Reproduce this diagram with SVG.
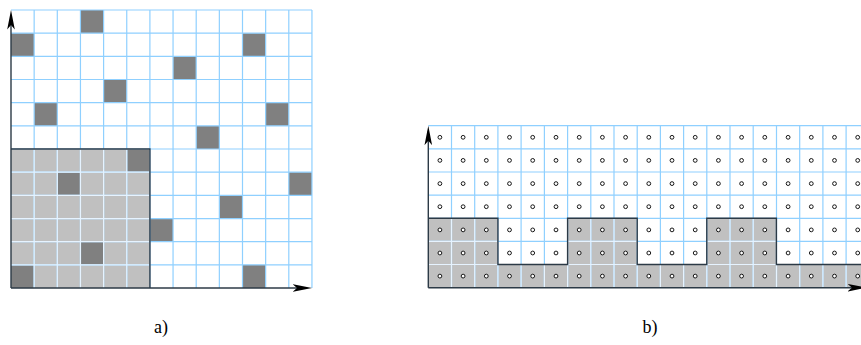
<svg xmlns="http://www.w3.org/2000/svg" xmlns:xlink="http://www.w3.org/1999/xlink" width="861" height="345" viewBox="0 0 861 345">
<style>
.bg{fill:#ffffff}
.lg{fill:#c0c0c0}
.dk{fill:#808080}
.gb{stroke:#8fd0ff;stroke-width:1.2;fill:none}
.gw{stroke:#e6f3ff;stroke-width:1.2;fill:none}
.ol{stroke:#2c3a46;stroke-width:1.4;fill:none}
.ax{stroke:#2c3a46;stroke-width:1.4;fill:none;marker-end:url(#arr)}
.pt{fill:#ffffff;stroke:#000000;stroke-width:0.9}
.lbl{font-family:"Liberation Serif","Times New Roman",serif;font-size:18px;fill:#000000;text-anchor:middle}
</style>
<defs>
<marker id="arr" viewBox="0 0 20 8" markerWidth="20" markerHeight="8" refX="14.5" refY="4" orient="auto" markerUnits="userSpaceOnUse">
<path d="M19.5,4 L0,0.2 L4.5,4 L0,7.8 Z" fill="#000000"/>
</marker>
<clipPath id="clipA"><rect x="11" y="149.02" width="138.9" height="139.02"/></clipPath>
<clipPath id="clipB">
<rect x="428.3" y="264.5" width="440" height="23.2"/>
<rect x="428.3" y="218.3" width="69.6" height="46.3"/>
<rect x="567.6" y="218.3" width="69.6" height="46.3"/>
<rect x="706.8" y="218.3" width="69.6" height="46.3"/>
</clipPath>
<g id="gridAlines">
<path d="M34.15,10V288M57.3,10V288M80.45,10V288M103.6,10V288M126.75,10V288M149.9,10V288M173.05,10V288M196.2,10V288M219.35,10V288M242.5,10V288M265.65,10V288M288.8,10V288M311.95,10V288"/>
<path d="M11,10H312M11,33.17H312M11,56.34H312M11,79.51H312M11,102.68H312M11,125.85H312M11,149.02H312M11,172.19H312M11,195.36H312M11,218.53H312M11,241.7H312M11,264.87H312"/>
</g>
<g id="gridBlines">
<path d="M451.5,125.7V287.7M474.7,125.7V287.7M497.9,125.7V287.7M521.1,125.7V287.7M544.4,125.7V287.7M567.6,125.7V287.7M590.8,125.7V287.7M614,125.7V287.7M637.2,125.7V287.7M660.4,125.7V287.7M683.6,125.7V287.7M706.8,125.7V287.7M730,125.7V287.7M753.2,125.7V287.7M776.5,125.7V287.7M799.7,125.7V287.7M822.9,125.7V287.7M846.1,125.7V287.7"/>
<path d="M428.3,125.7H870M428.3,148.8H870M428.3,172H870M428.3,195.1H870M428.3,218.3H870M428.3,241.4H870M428.3,264.5H870"/>
</g>
</defs>
<rect class="bg" x="0" y="0" width="861" height="345"/>

<g id="panelA">
<rect class="lg" x="11" y="149.02" width="138.9" height="139.02"/>
<g id="darkCells">
<rect class="dk" x="80.45" y="10" width="23.15" height="23.17"/>
<rect class="dk" x="11" y="33.17" width="23.15" height="23.17"/>
<rect class="dk" x="242.5" y="33.17" width="23.15" height="23.17"/>
<rect class="dk" x="173.05" y="56.34" width="23.15" height="23.17"/>
<rect class="dk" x="103.6" y="79.51" width="23.15" height="23.17"/>
<rect class="dk" x="34.15" y="102.68" width="23.15" height="23.17"/>
<rect class="dk" x="265.65" y="102.68" width="23.15" height="23.17"/>
<rect class="dk" x="196.2" y="125.85" width="23.15" height="23.17"/>
<rect class="dk" x="126.75" y="149.02" width="23.15" height="23.17"/>
<rect class="dk" x="57.3" y="172.19" width="23.15" height="23.17"/>
<rect class="dk" x="288.8" y="172.19" width="23.15" height="23.17"/>
<rect class="dk" x="219.35" y="195.36" width="23.15" height="23.17"/>
<rect class="dk" x="149.9" y="218.53" width="23.15" height="23.17"/>
<rect class="dk" x="80.45" y="241.7" width="23.15" height="23.17"/>
<rect class="dk" x="11" y="264.87" width="23.15" height="23.17"/>
<rect class="dk" x="242.5" y="264.87" width="23.15" height="23.17"/>
</g>
<use xlink:href="#gridAlines" class="gb"/>
<g clip-path="url(#clipA)"><use xlink:href="#gridAlines" class="gw"/></g>
<path class="ol" d="M11,149.02H149.9V288"/>
<path class="ax" d="M11,288V15"/>
<path class="ax" d="M11,288H307"/>
<text class="lbl" x="161" y="333">a)</text>
</g>

<g id="panelB">
<path class="lg" d="M428.3,218.3H497.9V264.5H567.6V218.3H637.2V264.5H706.8V218.3H776.4V264.5H870V287.7H428.3Z"/>
<use xlink:href="#gridBlines" class="gb"/>
<g clip-path="url(#clipB)"><use xlink:href="#gridBlines" class="gw"/></g>
<path class="ol" d="M428.3,218.3H497.9V264.5H567.6V218.3H637.2V264.5H706.8V218.3H776.4V264.5H870"/>
<g id="points">
<circle class="pt" cx="439.9" cy="137.3" r="1.9"/><circle class="pt" cx="463.1" cy="137.3" r="1.9"/><circle class="pt" cx="486.3" cy="137.3" r="1.9"/><circle class="pt" cx="509.5" cy="137.3" r="1.9"/><circle class="pt" cx="532.7" cy="137.3" r="1.9"/><circle class="pt" cx="556" cy="137.3" r="1.9"/><circle class="pt" cx="579.2" cy="137.3" r="1.9"/><circle class="pt" cx="602.4" cy="137.3" r="1.9"/><circle class="pt" cx="625.6" cy="137.3" r="1.9"/><circle class="pt" cx="648.8" cy="137.3" r="1.9"/><circle class="pt" cx="672" cy="137.3" r="1.9"/><circle class="pt" cx="695.2" cy="137.3" r="1.9"/><circle class="pt" cx="718.4" cy="137.3" r="1.9"/><circle class="pt" cx="741.6" cy="137.3" r="1.9"/><circle class="pt" cx="764.8" cy="137.3" r="1.9"/><circle class="pt" cx="788.1" cy="137.3" r="1.9"/><circle class="pt" cx="811.3" cy="137.3" r="1.9"/><circle class="pt" cx="834.5" cy="137.3" r="1.9"/><circle class="pt" cx="857.7" cy="137.3" r="1.9"/>
<circle class="pt" cx="439.9" cy="160.4" r="1.9"/><circle class="pt" cx="463.1" cy="160.4" r="1.9"/><circle class="pt" cx="486.3" cy="160.4" r="1.9"/><circle class="pt" cx="509.5" cy="160.4" r="1.9"/><circle class="pt" cx="532.7" cy="160.4" r="1.9"/><circle class="pt" cx="556" cy="160.4" r="1.9"/><circle class="pt" cx="579.2" cy="160.4" r="1.9"/><circle class="pt" cx="602.4" cy="160.4" r="1.9"/><circle class="pt" cx="625.6" cy="160.4" r="1.9"/><circle class="pt" cx="648.8" cy="160.4" r="1.9"/><circle class="pt" cx="672" cy="160.4" r="1.9"/><circle class="pt" cx="695.2" cy="160.4" r="1.9"/><circle class="pt" cx="718.4" cy="160.4" r="1.9"/><circle class="pt" cx="741.6" cy="160.4" r="1.9"/><circle class="pt" cx="764.8" cy="160.4" r="1.9"/><circle class="pt" cx="788.1" cy="160.4" r="1.9"/><circle class="pt" cx="811.3" cy="160.4" r="1.9"/><circle class="pt" cx="834.5" cy="160.4" r="1.9"/><circle class="pt" cx="857.7" cy="160.4" r="1.9"/>
<circle class="pt" cx="439.9" cy="183.6" r="1.9"/><circle class="pt" cx="463.1" cy="183.6" r="1.9"/><circle class="pt" cx="486.3" cy="183.6" r="1.9"/><circle class="pt" cx="509.5" cy="183.6" r="1.9"/><circle class="pt" cx="532.7" cy="183.6" r="1.9"/><circle class="pt" cx="556" cy="183.6" r="1.9"/><circle class="pt" cx="579.2" cy="183.6" r="1.9"/><circle class="pt" cx="602.4" cy="183.6" r="1.9"/><circle class="pt" cx="625.6" cy="183.6" r="1.9"/><circle class="pt" cx="648.8" cy="183.6" r="1.9"/><circle class="pt" cx="672" cy="183.6" r="1.9"/><circle class="pt" cx="695.2" cy="183.6" r="1.9"/><circle class="pt" cx="718.4" cy="183.6" r="1.9"/><circle class="pt" cx="741.6" cy="183.6" r="1.9"/><circle class="pt" cx="764.8" cy="183.6" r="1.9"/><circle class="pt" cx="788.1" cy="183.6" r="1.9"/><circle class="pt" cx="811.3" cy="183.6" r="1.9"/><circle class="pt" cx="834.5" cy="183.6" r="1.9"/><circle class="pt" cx="857.7" cy="183.6" r="1.9"/>
<circle class="pt" cx="439.9" cy="206.7" r="1.9"/><circle class="pt" cx="463.1" cy="206.7" r="1.9"/><circle class="pt" cx="486.3" cy="206.7" r="1.9"/><circle class="pt" cx="509.5" cy="206.7" r="1.9"/><circle class="pt" cx="532.7" cy="206.7" r="1.9"/><circle class="pt" cx="556" cy="206.7" r="1.9"/><circle class="pt" cx="579.2" cy="206.7" r="1.9"/><circle class="pt" cx="602.4" cy="206.7" r="1.9"/><circle class="pt" cx="625.6" cy="206.7" r="1.9"/><circle class="pt" cx="648.8" cy="206.7" r="1.9"/><circle class="pt" cx="672" cy="206.7" r="1.9"/><circle class="pt" cx="695.2" cy="206.7" r="1.9"/><circle class="pt" cx="718.4" cy="206.7" r="1.9"/><circle class="pt" cx="741.6" cy="206.7" r="1.9"/><circle class="pt" cx="764.8" cy="206.7" r="1.9"/><circle class="pt" cx="788.1" cy="206.7" r="1.9"/><circle class="pt" cx="811.3" cy="206.7" r="1.9"/><circle class="pt" cx="834.5" cy="206.7" r="1.9"/><circle class="pt" cx="857.7" cy="206.7" r="1.9"/>
<circle class="pt" cx="439.9" cy="229.9" r="1.9"/><circle class="pt" cx="463.1" cy="229.9" r="1.9"/><circle class="pt" cx="486.3" cy="229.9" r="1.9"/><circle class="pt" cx="509.5" cy="229.9" r="1.9"/><circle class="pt" cx="532.7" cy="229.9" r="1.9"/><circle class="pt" cx="556" cy="229.9" r="1.9"/><circle class="pt" cx="579.2" cy="229.9" r="1.9"/><circle class="pt" cx="602.4" cy="229.9" r="1.9"/><circle class="pt" cx="625.6" cy="229.9" r="1.9"/><circle class="pt" cx="648.8" cy="229.9" r="1.9"/><circle class="pt" cx="672" cy="229.9" r="1.9"/><circle class="pt" cx="695.2" cy="229.9" r="1.9"/><circle class="pt" cx="718.4" cy="229.9" r="1.9"/><circle class="pt" cx="741.6" cy="229.9" r="1.9"/><circle class="pt" cx="764.8" cy="229.9" r="1.9"/><circle class="pt" cx="788.1" cy="229.9" r="1.9"/><circle class="pt" cx="811.3" cy="229.9" r="1.9"/><circle class="pt" cx="834.5" cy="229.9" r="1.9"/><circle class="pt" cx="857.7" cy="229.9" r="1.9"/>
<circle class="pt" cx="439.9" cy="253" r="1.9"/><circle class="pt" cx="463.1" cy="253" r="1.9"/><circle class="pt" cx="486.3" cy="253" r="1.9"/><circle class="pt" cx="509.5" cy="253" r="1.9"/><circle class="pt" cx="532.7" cy="253" r="1.9"/><circle class="pt" cx="556" cy="253" r="1.9"/><circle class="pt" cx="579.2" cy="253" r="1.9"/><circle class="pt" cx="602.4" cy="253" r="1.9"/><circle class="pt" cx="625.6" cy="253" r="1.9"/><circle class="pt" cx="648.8" cy="253" r="1.9"/><circle class="pt" cx="672" cy="253" r="1.9"/><circle class="pt" cx="695.2" cy="253" r="1.9"/><circle class="pt" cx="718.4" cy="253" r="1.9"/><circle class="pt" cx="741.6" cy="253" r="1.9"/><circle class="pt" cx="764.8" cy="253" r="1.9"/><circle class="pt" cx="788.1" cy="253" r="1.9"/><circle class="pt" cx="811.3" cy="253" r="1.9"/><circle class="pt" cx="834.5" cy="253" r="1.9"/><circle class="pt" cx="857.7" cy="253" r="1.9"/>
<circle class="pt" cx="439.9" cy="276.1" r="1.9"/><circle class="pt" cx="463.1" cy="276.1" r="1.9"/><circle class="pt" cx="486.3" cy="276.1" r="1.9"/><circle class="pt" cx="509.5" cy="276.1" r="1.9"/><circle class="pt" cx="532.7" cy="276.1" r="1.9"/><circle class="pt" cx="556" cy="276.1" r="1.9"/><circle class="pt" cx="579.2" cy="276.1" r="1.9"/><circle class="pt" cx="602.4" cy="276.1" r="1.9"/><circle class="pt" cx="625.6" cy="276.1" r="1.9"/><circle class="pt" cx="648.8" cy="276.1" r="1.9"/><circle class="pt" cx="672" cy="276.1" r="1.9"/><circle class="pt" cx="695.2" cy="276.1" r="1.9"/><circle class="pt" cx="718.4" cy="276.1" r="1.9"/><circle class="pt" cx="741.6" cy="276.1" r="1.9"/><circle class="pt" cx="764.8" cy="276.1" r="1.9"/><circle class="pt" cx="788.1" cy="276.1" r="1.9"/><circle class="pt" cx="811.3" cy="276.1" r="1.9"/><circle class="pt" cx="834.5" cy="276.1" r="1.9"/><circle class="pt" cx="857.7" cy="276.1" r="1.9"/>
</g>
<path class="ax" d="M428.3,287.7V130.7"/>
<path class="ax" d="M428.3,287.7H862"/>
<text class="lbl" x="650" y="333">b)</text>
</g>
</svg>
